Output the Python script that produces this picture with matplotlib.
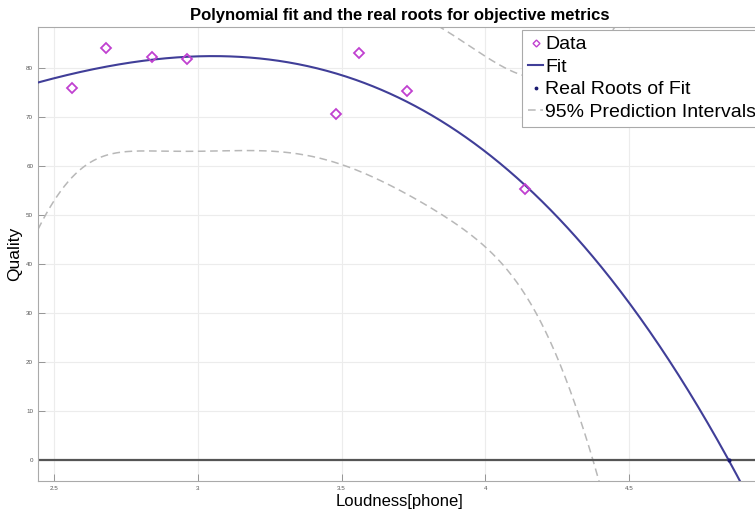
"""
Polynomial fit of listening-test quality against loudness, with the
95% prediction band and the real roots of the fitted polynomial.
"""

import numpy as np
import matplotlib.pyplot as plt

# Measured points
loudness = [2.561, 2.681, 2.840, 2.961, 3.479, 3.559, 3.729, 4.139]
quality = [76.0, 84.1, 82.2, 81.9, 70.6, 83.1, 75.4, 55.3]

DEGREE = 3
T_CRIT = 2.776  # Student t, 97.5 %, n - (DEGREE + 1) = 4 dof

X_LIM = (2.444, 4.962)
Y_LIM = (-4.3, 88.4)
X_TICKS = [2.5, 3, 3.5, 4, 4.5]
X_TICK_LABELS = ['2.5', '3', '3.5', '4', '4.5']
Y_TICKS = [0, 10, 20, 30, 40, 50, 60, 70, 80]


def fit_polynomial(x, y, degree):
    x = np.asarray(x)
    y = np.asarray(y)
    design = np.vander(x, degree + 1)
    coef, *_ = np.linalg.lstsq(design, y, rcond=None)
    resid = y - design @ coef
    dof = len(x) - (degree + 1)
    s = np.sqrt(np.sum(resid ** 2) / dof)
    cov = np.linalg.inv(design.T @ design)
    return coef, s, cov


def prediction_band(xg, coef, s, cov):
    design = np.vander(xg, len(coef))
    yhat = design @ coef
    lev = np.einsum('ij,jk,ik->i', design, cov, design)
    half = T_CRIT * s * np.sqrt(1 + lev)
    return yhat, yhat - half, yhat + half


def main():
    plt.rcParams['font.family'] = ['Liberation Sans', 'DejaVu Sans']

    fig = plt.figure(figsize=(7.55, 5.11), dpi=100)
    ax = fig.add_axes([38 / 755, 30 / 511, 724 / 755, 454 / 511])

    coef, s, cov = fit_polynomial(loudness, quality, DEGREE)
    xg = np.linspace(X_LIM[0], X_LIM[1], 600)
    yhat, lower, upper = prediction_band(xg, coef, s, cov)

    roots = np.roots(coef)
    roots = np.real(roots[np.isreal(roots)])
    roots = roots[(roots >= X_LIM[0]) & (roots <= X_LIM[1])]

    ax.plot(loudness, quality, linestyle='none', marker='D',
            markersize=4.8, markerfacecolor='none', markeredgecolor='#C040D0',
            markeredgewidth=1.3, label='Data', zorder=4)
    ax.plot(xg, yhat, color='#403E98', linewidth=1.5, label='Fit', zorder=3)
    ax.plot(roots, np.zeros_like(roots), linestyle='none', marker='.',
            markersize=4, color='#1A1A70', label='Real Roots of Fit', zorder=5)
    ax.plot(xg, lower, color='#B8B8B8', linestyle='--', linewidth=1.1,
            dashes=(5, 3), label='95% Prediction Intervals', zorder=2)
    ax.plot(xg, upper, color='#B8B8B8', linestyle='--', linewidth=1.1,
            dashes=(5, 3), zorder=2)

    ax.axhline(0, color='#555555', linewidth=1.6, zorder=2)

    ax.set_xlim(*X_LIM)
    ax.set_ylim(*Y_LIM)
    ax.set_xticks(X_TICKS)
    ax.set_xticklabels(X_TICK_LABELS)
    ax.set_yticks(Y_TICKS)
    ax.tick_params(direction='in', length=5, width=0.6, colors='#888888',
                   labelsize=4.5, labelcolor='#555555')
    ax.grid(True, color='#ECECEC', linewidth=0.8)
    ax.set_axisbelow(True)
    for side in ax.spines.values():
        side.set_color('#AAAAAA')
        side.set_linewidth(0.8)

    ax.set_title('Polynomial fit and the real roots for objective metrics',
                 fontsize=12, fontweight='bold', pad=5)
    ax.set_xlabel('Loudness[phone]', fontsize=12, labelpad=2)
    ax.set_ylabel('Quality', fontsize=12.5, labelpad=3)

    # legend pinned to its top-left corner; right side runs past the canvas
    leg = ax.legend(loc='upper left', bbox_to_anchor=(0.6685, 0.9934),
                    fontsize=14, handlelength=0.8, handletextpad=0.1,
                    borderpad=0.3, labelspacing=0.25, borderaxespad=0,
                    fancybox=False, framealpha=1, edgecolor='#AAAAAA')
    leg.get_frame().set_linewidth(0.8)
    handles = leg.legend_handles
    handles[0].set_markersize(3.5)
    handles[0].set_markeredgewidth(1.0)
    handles[2].set_markersize(3.5)

    fig.savefig('out.png', dpi=100)


if __name__ == '__main__':
    main()
